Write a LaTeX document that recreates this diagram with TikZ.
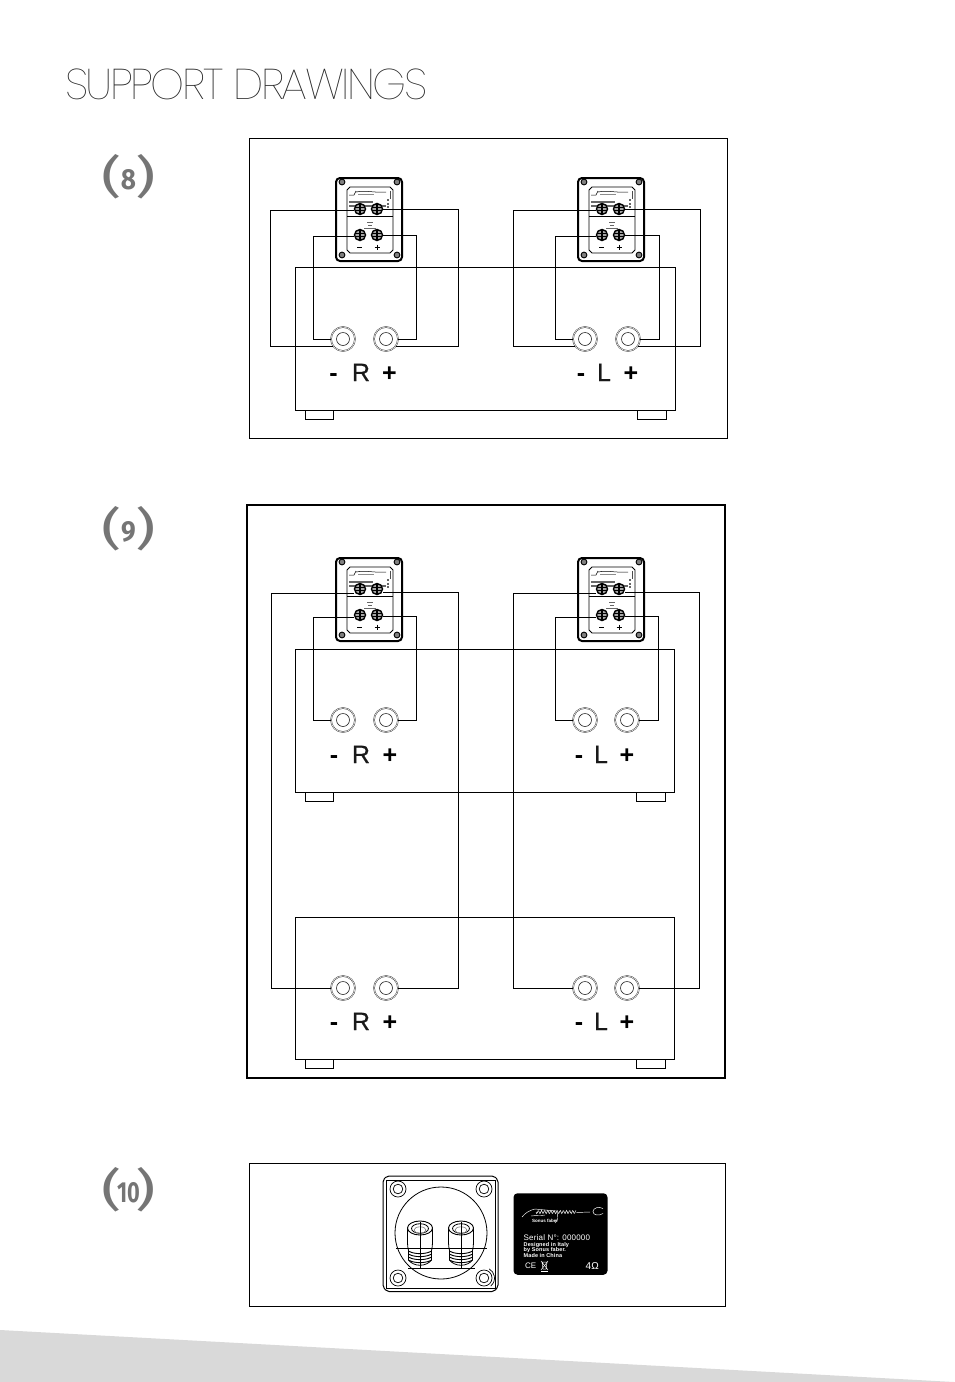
\documentclass[tikz,border=0pt]{standalone}
\usepackage{fontspec}
\setmainfont{Liberation Sans}
\newfontfamily\titlefont{Poppins Thin}
\newfontfamily\numfont[Numbers=Lining]{Fira Sans Bold}
\newfontfamily\parenfont{Fira Sans}
\definecolor{numgray}{HTML}{757575}
\definecolor{bandgray}{HTML}{D9D9D9}
\newcommand{\figno}[2]{{\parenfont\fontsize{45}{45}\selectfont\scalebox{1.4}[1]{(}}\makebox[14pt]{\numfont\raisebox{3pt}{\scalebox{#1}[1]{\fontsize{29}{29}\selectfont #2}}}{\parenfont\fontsize{45}{45}\selectfont\scalebox{1.4}[1]{)}}}
\tikzset{
  x=1pt,y=-1pt,
  frame/.style={draw=black,line width=1pt,fill=none},
  wire/.style={draw=black,line width=1pt,line join=miter},
  ampbox/.style={draw=black,line width=1pt},
  ring/.style={circle,draw=black!75,line width=.5pt,minimum size=24pt,inner sep=0pt,double=white,double distance=.5pt},
  ringin/.style={circle,draw=black!85,line width=.6pt,minimum size=13pt,inner sep=0pt},
  post/.style={circle,draw=black,fill=black!35,line width=1.4pt,minimum size=11pt,inner sep=0pt},
  sign/.style={font=\fontsize{25}{25}\selectfont\bfseries,inner sep=0pt,anchor=base},
  letter/.style={font=\fontsize{25}{25}\selectfont\addfontfeature{FakeBold=.6},inner sep=0pt,text=black!90,anchor=base},
  numtxt/.style={text=numgray,inner sep=0pt},
  lab/.style={text=white,inner sep=0pt,anchor=west},
}
\newcommand{\plate}[3]{% name, left x, top y
  \begin{scope}[shift={(#2,#3)}]
    \draw[line width=2pt,rounded corners=4pt,fill=white] (0,0) rectangle (66,83);
    \draw[line width=.8pt] (14,9) -- (54,9) -- (57,12) -- (57,72) -- (54,75) -- (14,75) -- (11,72) -- (11,12) -- cycle;
    \foreach \sx/\sy in {6/4,61/4,6/77,61/77}{
      \draw[line width=.9pt,fill=black!50] (\sx,\sy) circle (2.9);
    }
    \draw[line width=.5pt] (13,17) -- (18,17) -- (20,13) (20,14) .. controls (30,12) and (38,15) .. (50,14);
    \draw[line width=1pt,black!45] (22,16) -- (38,16);
    \draw[line width=.4pt,black!70] (54,13) -- (54,21);
    \draw[line width=1.1pt,black!60] (13,24) -- (37,24);
    \draw[line width=1.1pt,black!60] (13,28) -- (50,28) (51,22) -- (53,22) (51,26) -- (53,26) (51,29) -- (53,29);
    \draw[line width=.8pt] (11,38) -- (57,38);
    \draw[line width=.6pt,black!60] (31,44) -- (37,44) (32,47) -- (36,47) (28,50) -- (40,50);
    \node[post] (#1a) at (24,31) {};
    \node[post] (#1b) at (41,31) {};
    \node[post] (#1c) at (24,57) {};
    \node[post] (#1d) at (41,57) {};
    \foreach \tx/\ty in {24/31,41/31,24/57,41/57}{
      \draw[line width=1pt] (\tx-4.5,\ty-1.7) -- (\tx+4.5,\ty-1.7) (\tx-4.5,\ty+1.7) -- (\tx+4.5,\ty+1.7);
      \draw[line width=2pt] (\tx,\ty-5) -- (\tx,\ty+5);
    }
    \draw[line width=1pt] (21,69) -- (26,69) (38.5,69) -- (43.5,69) (41,66.5) -- (41,71.5);
  \end{scope}
}
\newcommand{\terminal}[3]{% name, x, y
  \node[ring] (#1) at (#2,#3) {};
  \node[ringin] at (#2,#3) {};
}
\newcommand{\amp}[7]{% name, x1, y1, x2, y2, foot1 x, foot2 x
  \draw[ampbox] (#2,#3) rectangle (#4,#5);
  \coordinate (#1) at (#2,#3);
  \draw[ampbox] (#6,#5) rectangle (#6+28,#5+9);
  \draw[ampbox] (#7,#5) rectangle (#7+29,#5+9);
}
% wire: from, x of the vertical run, to
\newcommand{\wire}[3]{%
  \coordinate (wx) at (#2,0);
  \draw[wire] (#1) -- (#1 -| wx) -- (#3 -| wx) -- (#3);
}
\begin{document}
\begin{tikzpicture}
\useasboundingbox (0,0) rectangle (954,1382);
\fill[white] (0,0) rectangle (954,1382);
\fill[bandgray] (0,1330) -- (954,1382) -- (0,1382) -- cycle;

\node[anchor=west,inner sep=0pt,text=black!85] (title) at (65,84)
  {\titlefont\fontsize{43}{43}\selectfont\addfontfeature{LetterSpace=-5.7}SUPPORT DRAWINGS};

\node[numtxt] (n8) at (128.5,177) {\figno{.9}{8}};
\node[numtxt] (n9) at (128.5,529) {\figno{.9}{9}};
\node[numtxt] (n10) at (128.5,1190) {\figno{.75}{10}};

% ---------- figure 8
\draw[frame] (249.5,138) rectangle (727,438);
\amp{a8}{295}{267}{675}{410}{305}{637}
\plate{p8r}{336}{178}
\plate{p8l}{578}{178}
\terminal{t8a}{343}{339}
\terminal{t8b}{386}{339}
\terminal{t8c}{585}{339}
\terminal{t8d}{628}{339}
\wire{[yshift=-1.5pt]p8ra.west}{270}{t8a.215}
\wire{p8rb.east}{458}{t8b.325}
\wire{[yshift=-1pt]p8rc.west}{313}{t8a.180}
\wire{p8rd.east}{416}{t8b.0}
\wire{[yshift=-1.5pt]p8la.west}{513}{t8c.215}
\wire{p8lb.east}{700}{t8d.325}
\wire{[yshift=-1pt]p8lc.west}{555}{t8c.180}
\wire{p8ld.east}{659}{t8d.0}
\node[sign] (m8r) at (333.5,381) {-};
\node[letter] (r8) at (361,381) {R};
\node[sign] (q8r) at (389.5,381) {+};
\node[sign] (m8l) at (581,381) {-};
\node[letter] (l8) at (604,381) {L};
\node[sign] (q8l) at (631,381) {+};

% ---------- figure 9
\draw[frame,line width=1.5pt] (247,505) rectangle (725,1078);
\amp{a9}{295}{649}{674}{792}{305}{636}
\amp{b9}{295}{917}{674}{1059}{305}{636}
\plate{p9r}{336}{558}
\plate{p9l}{578}{558}
\terminal{t9a}{343}{720}
\terminal{t9b}{386}{720}
\terminal{t9c}{585}{720}
\terminal{t9d}{627}{720}
\terminal{u9a}{343}{988}
\terminal{u9b}{386}{988}
\terminal{u9c}{585}{988}
\terminal{u9d}{627}{988}
\wire{[yshift=-2pt]p9rc.west}{313}{t9a.180}
\wire{[yshift=-1pt]p9rd.east}{416}{t9b.0}
\wire{[yshift=-2pt]p9lc.west}{555}{t9c.180}
\wire{[yshift=-1pt]p9ld.east}{658}{t9d.0}
\wire{[yshift=-4pt]p9ra.west}{271}{u9a.180}
\wire{[yshift=-3.5pt]p9rb.east}{458}{u9b.0}
\wire{[yshift=-4pt]p9la.west}{513}{u9c.180}
\wire{[yshift=-3.5pt]p9lb.east}{699}{u9d.0}
\node[sign] (m9r) at (334,763) {-};
\node[letter] (r9) at (361,763) {R};
\node[sign] (q9r) at (390,763) {+};
\node[sign] (m9l) at (579,763) {-};
\node[letter] (l9) at (601,763) {L};
\node[sign] (q9l) at (627,763) {+};
\node[sign] (m9s) at (334,1030) {-};
\node[letter] (s9) at (361,1030) {R};
\node[sign] (q9s) at (390,1030) {+};
\node[sign] (m9t) at (579,1030) {-};
\node[letter] (t9) at (601,1030) {L};
\node[sign] (q9t) at (627,1030) {+};

% ---------- figure 10
\draw[frame] (249.5,1163) rectangle (725,1306);
\draw[line width=1pt,rounded corners=2pt] (387,1176) -- (494,1176) -- (498,1180) -- (498,1287) -- (494,1291.5) -- (387,1291.5) -- (383,1287) -- (383,1180) -- cycle;
\draw[line width=.8pt] (386,1180) -- (495,1180) -- (495,1288) -- (386,1288) -- cycle;
\foreach \sx/\sy in {398/1189,484/1189,398/1278,484/1278}{
  \draw[line width=.7pt] (\sx,\sy) circle (8);
  \draw[line width=.7pt] (\sx,\sy) circle (4.8);
}
\draw[line width=.7pt] (484,1278) ++(50:10.5) arc[start angle=50,end angle=-60,radius=10.5];
\draw[line width=.8pt] (441,1233) circle (46);
\foreach \px in {420,461}{
  \draw[line width=.8pt,fill=white] (\px-12.5,1228) -- (\px-12.5,1240) .. controls (\px-12.5,1246) and (\px-12,1249) .. (\px-11.5,1250)
     -- (\px-11.5,1260) .. controls (\px-6,1267) and (\px+6,1267) .. (\px+11.5,1260) -- (\px+11.5,1250)
     .. controls (\px+12,1249) and (\px+12.5,1246) .. (\px+12.5,1240) -- (\px+12.5,1228) -- cycle;
  \draw[line width=.9pt,fill=white] (\px,1228) ellipse (12.5 and 7);
  \draw[line width=.8pt] (\px,1228.5) ellipse (8.5 and 4.8);
  \draw[line width=.6pt,gray] (\px,1230) ellipse (6 and 3.2);
  \foreach \ly in {1251,1254,1257,1260}{
    \draw[line width=.9pt] (\px-11.5,\ly) .. controls (\px-6,\ly+3.5) and (\px+6,\ly+3.5) .. (\px+11.5,\ly);
  }
  \draw[line width=.9pt] (\px,1222) -- (\px,1268);
}
\draw[line width=.8pt] (396,1248) -- (487,1248);
\draw[line width=.8pt] (408,1268) -- (475,1268);

\node[fill=black,rounded corners=4pt,minimum width=94pt,minimum height=81.5pt,inner sep=0pt] (badge) at (560.5,1234) {};
\draw[white,line width=.45pt] (522,1217) .. controls (525,1213) and (530,1210) .. (535,1209)
  -- (556,1211);
\draw[white,line width=.45pt] (531,1216) .. controls (537,1215) and (541,1216) .. (545,1215);
\draw[white,line width=.5pt] plot[domain=0:40,samples=60,smooth] ({536+\x},{1212+1.6*sin(\x*115)});
\draw[white,line width=.45pt] (557,1212) .. controls (558,1217) and (558,1220) .. (555,1223);
\draw[white,line width=.45pt] (576,1212.5) -- (590,1212);
\draw[white,line width=.5pt] (603,1208.5) .. controls (599,1206) and (593,1208) .. (593,1211.5) .. controls (593,1215.5) and (599,1216) .. (603,1213.5);
\node[lab,font=\fontsize{4.5}{4.5}\selectfont\bfseries] (sf) at (532,1221) {Sonus faber};
\node[lab,font=\fontsize{8}{8}\selectfont,text=white] (ser) at (523.5,1237.5) {\addfontfeature{LetterSpace=2.5}Serial N°: 000000};
\node[lab,font=\fontsize{5.5}{5.5}\selectfont\bfseries] (d1) at (523.5,1245) {\addfontfeature{LetterSpace=2}Designed in Italy};
\node[lab,font=\fontsize{5.5}{5.5}\selectfont\bfseries] (d2) at (523.5,1250.5) {\addfontfeature{LetterSpace=2}by Sonus faber.};
\node[lab,font=\fontsize{5.5}{5.5}\selectfont\bfseries] (d3) at (523.5,1256) {\addfontfeature{LetterSpace=2}Made in China};
\node[lab,font=\fontsize{8}{8}\selectfont] (ce) at (525,1266) {CE};
\begin{scope}[white,line width=.5pt]
  \draw (542,1262) -- (547,1262) -- (546,1269) -- (543,1269) -- cycle (541,1261) -- (548,1270);
  \draw (548,1261) -- (541,1270);
  \draw[line width=1.2pt] (541,1271.5) -- (548,1271.5);
\end{scope}
\node[lab,font=\fontsize{10}{10}\selectfont] (ohm) at (585.5,1266) {4Ω};
\end{tikzpicture}
\end{document}
